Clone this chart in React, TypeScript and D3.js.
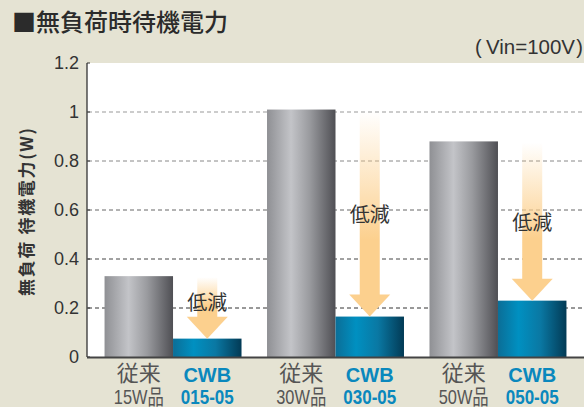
import React from "react";
import * as d3 from "d3";

const categories = ["15W", "30W", "50W"];
const conventionalLabelTop = ["従来", "従来", "従来"];
const conventionalLabelBottom = ["15W品", "30W品", "50W品"];
const modelTop = ["CWB", "CWB", "CWB"];
const modelBottom = ["015-05", "030-05", "050-05"];
const conventionalValues = [0.33, 1.01, 0.88];
const cwbValues = [0.075, 0.165, 0.23];
const yTicks = [0, 0.2, 0.4, 0.6, 0.8, 1, 1.2];
const yTickLabels = ["0", "0.2", "0.4", "0.6", "0.8", "1", "1.2"];
const gridValues = [0.2, 0.4, 0.6, 0.8, 1];
const gridColors = ["#333", "#444", "#666", "#888", "#999"];
const series = ["conv", "cwb"];

const W = 584;
const H = 407;
const JP = "'Noto Sans CJK JP', 'Noto Sans', sans-serif";
const LAT = "'Liberation Sans', Arial, 'Noto Sans CJK JP', sans-serif";

export default function App() {
  const left = 87;
  const right = 584;
  const top = 63;
  const bottom = 357;

  const y = d3.scaleLinear().domain([0, 1.2]).range([bottom, top]);
  const x0 = d3
    .scaleBand<string>()
    .domain(categories)
    .range([left, right])
    .paddingInner(0.157)
    .paddingOuter(0.108);
  const x1 = d3.scaleBand<string>().domain(series).range([0, x0.bandwidth()]).padding(0);

  const shaftW = 20;
  const headW = 41;
  const headH = 22;

  return (
    <svg
      width={W}
      height={H}
      style={{ position: "absolute", left: 0, top: 0, display: "block" }}
    >
      <defs>
        <linearGradient id="grayBar" x1="0" x2="1" y1="0" y2="0">
          <stop offset="0" stopColor="#8f9094" />
          <stop offset="0.35" stopColor="#c3c4c8" />
          <stop offset="0.62" stopColor="#9a9b9f" />
          <stop offset="1" stopColor="#4f4f54" />
        </linearGradient>
        <linearGradient id="blueBar" x1="0" x2="1" y1="0" y2="0">
          <stop offset="0" stopColor="#0b6e97" />
          <stop offset="0.3" stopColor="#0090c1" />
          <stop offset="0.62" stopColor="#0a78a3" />
          <stop offset="1" stopColor="#023a55" />
        </linearGradient>
        <linearGradient id="shaft" x1="0" x2="0" y1="0" y2="1">
          <stop offset="0" stopColor="#fcd08e" stopOpacity="0" />
          <stop offset="0.7" stopColor="#fcd08e" stopOpacity="1" />
          <stop offset="1" stopColor="#fcd08e" stopOpacity="1" />
        </linearGradient>
      </defs>

      <rect x={0} y={0} width={W} height={H} fill="#e5e3d3" />
      <rect x={left} y={top} width={right - left} height={bottom - top} fill="#fff" />

      <text x={12} y={31} fontFamily={JP} fontSize={24} fontWeight={500} fill="#2b2b2b">
        ■無負荷時待機電力
      </text>
      <text x={475} y={54} fontFamily={LAT} fontSize={20} fill="#333">
        (
      </text>
      <text
        x={486}
        y={54}
        fontFamily={LAT}
        fontSize={20}
        fill="#333"
        textLength={89}
        lengthAdjust="spacingAndGlyphs"
      >
        Vin=100V
      </text>
      <text x={583} y={54} textAnchor="end" fontFamily={LAT} fontSize={20} fill="#333">
        )
      </text>

      {gridValues.map((v, i) => (
        <line
          key={v}
          x1={left + 1}
          x2={right}
          y1={y(v)}
          y2={y(v)}
          stroke={gridColors[i]}
          strokeWidth={1}
          strokeDasharray="4,3"
        />
      ))}

      {categories.map((c, i) => {
        const gx = x0(c)!;
        const cx = gx + x1("conv")!;
        const bx = gx + x1("cwb")!;
        const bw = x1.bandwidth();
        const ax = bx + bw / 2;
        const yTop = y(conventionalValues[i]);
        const yTip = y(cwbValues[i]);
        const yHead = yTip - headH;
        return (
          <g key={c}>
            <rect
              x={cx}
              y={y(conventionalValues[i])}
              width={bw}
              height={bottom - y(conventionalValues[i])}
              fill="url(#grayBar)"
            />
            <rect
              x={bx}
              y={y(cwbValues[i])}
              width={bw}
              height={bottom - y(cwbValues[i])}
              fill="url(#blueBar)"
            />
            <rect
              x={ax - shaftW / 2}
              y={yTop + 1}
              width={shaftW}
              height={yHead - yTop}
              fill="url(#shaft)"
            />
            <path
              d={`M${ax - headW / 2},${yHead} L${ax + headW / 2},${yHead} L${ax},${yTip} Z`}
              fill="#fcd08e"
            />
            <text
              x={ax}
              y={(yTop + yTip) / 2 - (i === 0 ? 6 : 0)}
              textAnchor="middle"
              dominantBaseline="central"
              fontFamily={JP}
              fontSize={20}
              fill="#333"
            >
              低減
            </text>
            <text
              x={cx + bw / 2}
              y={381}
              textAnchor="middle"
              fontFamily={JP}
              fontSize={22}
              fill="#555"
            >
              {conventionalLabelTop[i]}
            </text>
            <text
              x={cx + bw / 2}
              y={404}
              textAnchor="middle"
              fontFamily={LAT}
              fontSize={21}
              fill="#555"
              textLength={50}
              lengthAdjust="spacingAndGlyphs"
            >
              {conventionalLabelBottom[i]}
            </text>
            <text
              x={ax}
              y={382}
              textAnchor="middle"
              fontFamily={LAT}
              fontSize={20}
              fontWeight="bold"
              fill="#0a88bd"
            >
              {modelTop[i]}
            </text>
            <text
              x={ax}
              y={404}
              textAnchor="middle"
              fontFamily={LAT}
              fontSize={21}
              fontWeight="bold"
              fill="#0a88bd"
              textLength={53}
              lengthAdjust="spacingAndGlyphs"
            >
              {modelBottom[i]}
            </text>
          </g>
        );
      })}

      <line x1={left} x2={left} y1={top} y2={bottom} stroke="#333" strokeWidth={1.3} />
      {yTicks.map((v, i) => (
        <g key={v}>
          <line x1={left} x2={left + 3} y1={y(v)} y2={y(v)} stroke="#333" strokeWidth={1} />
          <text
            x={79}
            y={y(v)}
            textAnchor="end"
            dominantBaseline="central"
            fontFamily={LAT}
            fontSize={18}
            fill="#333"
          >
            {yTickLabels[i]}
          </text>
        </g>
      ))}
      <line x1={left} x2={right} y1={bottom + 0.5} y2={bottom + 0.5} stroke="#444" strokeWidth={2} />

      <text
        transform="translate(25,212) rotate(-90)"
        x={-84}
        y={0}
        dominantBaseline="central"
        fontFamily={JP}
        fontSize={17}
        fontWeight="bold"
        fill="#333"
        textLength={168}
        lengthAdjust="spacing"
      >
        無負荷 待機電力(W)
      </text>
    </svg>
  );
}
